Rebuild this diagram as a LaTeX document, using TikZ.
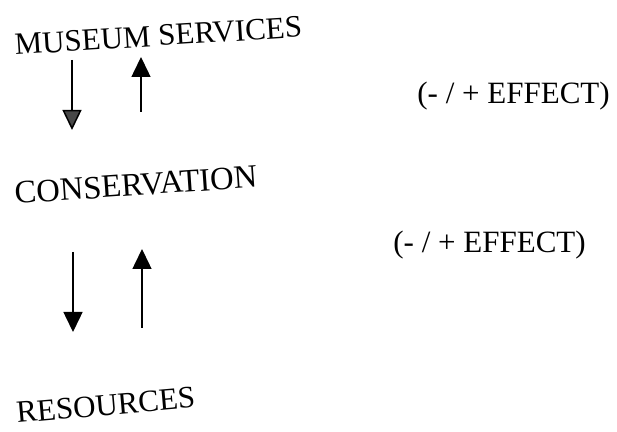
\documentclass[tikz,border=0pt]{standalone}
\usepackage{fontspec}
\setmainfont{Liberation Serif}
\usetikzlibrary{arrows.meta}
\begin{document}
\begin{tikzpicture}[x=0.5pt,y=-0.5pt,
  lbl/.style={inner sep=0pt, anchor=base west, font=\fontsize{15.5}{18}\selectfont},
  flow/.style={line width=0.75pt, -{Triangle[length=10pt,width=9.5pt]}},
  flowgrey/.style={line width=0.75pt, -{Triangle[length=10pt,width=9.5pt,fill=black!72]}}]
\useasboundingbox (0,0) rectangle (617,432);
\node[lbl, rotate=3.6] (ms) at (15,55) {MUSEUM SERVICES};
\node[lbl] (e1) at (417,104) {(- / + EFFECT)};
\node[lbl, rotate=4, font=\fontsize{16.3}{19}\selectfont] (cons) at (15,204) {CONSERVATION};
\node[lbl] (e2) at (393,253) {(- / + EFFECT)};
\node[lbl, rotate=5] (res) at (17,423) {RESOURCES};
% arrows between museum services and conservation
\coordinate (d1s) at (72,60);
\coordinate (d1e) at (72,130);
\coordinate (u1s) at (141,112);
\coordinate (u1e) at (141,57);
\draw[flowgrey] (d1s) -- (d1e);
\draw[flow] (u1s) -- (u1e);
% arrows between conservation and resources
\coordinate (d2s) at (73,252);
\coordinate (d2e) at (73,332);
\coordinate (u2s) at (142,328);
\coordinate (u2e) at (142,249);
\draw[flow] (d2s) -- (d2e);
\draw[flow] (u2s) -- (u2e);
\end{tikzpicture}
\end{document}
